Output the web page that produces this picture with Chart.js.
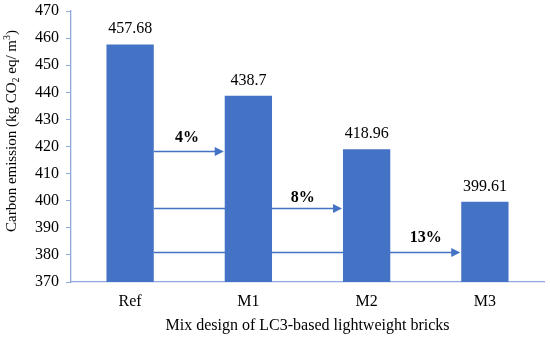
<!DOCTYPE html>
<html><head><meta charset="utf-8">
<script src="https://cdn.jsdelivr.net/npm/chart.js@4.4.1/dist/chart.umd.min.js"></script>
<style>html,body{margin:0;padding:0;background:#fff}#wrap{width:550px;height:338px}</style>
</head>
<body><div id="wrap"><canvas id="c" width="550" height="338"></canvas></div>
<script>
const categories = ['Ref', 'M1', 'M2', 'M3'];
const emissions = [457.68, 438.7, 418.96, 399.61];
const valueLabels = ['457.68', '438.7', '418.96', '399.61'];
const yMin = 370, yMax = 470, yStep = 10;
const reductionLabels = ['4%', '8%', '13%'];
const arrowLevels = [418.2, 397.4, 381.2];
const arrowTargets = [1, 2, 3];
const reductionLabelX = [0.48, 1.46, 2.5];
const reductionLabelY = [423.3, 401.2, 386.4];
const xTitle = 'Mix design of LC3-based lightweight bricks';
const yTitleParts = [['Carbon emission (kg CO', 0], ['2', -1], [' eq/ m', 0], ['3', 1], [')', 0]];

const FONT = '"Liberation Serif", "Times New Roman", serif';
const BAR = '#4472C4';
const AXIS = '#8EA9DB';

const annot = {
  id: 'annot',
  beforeDatasetsDraw(chart) {
    const ctx = chart.ctx, x = chart.scales.x, y = chart.scales.y;
    const meta = chart.getDatasetMeta(0);
    const startX = meta.data[0].x + meta.data[0].width / 2;
    ctx.save();
    ctx.strokeStyle = BAR; ctx.fillStyle = BAR; ctx.lineWidth = 1.3;
    arrowLevels.forEach((lv, i) => {
      const py = Math.round(y.getPixelForValue(lv)) + 0.5;
      const bar = meta.data[arrowTargets[i]];
      const tip = bar.x - bar.width / 2 - 1;
      ctx.beginPath(); ctx.moveTo(startX, py); ctx.lineTo(tip - 7, py); ctx.stroke();
      ctx.beginPath(); ctx.moveTo(tip, py); ctx.lineTo(tip - 9, py - 4.5); ctx.lineTo(tip - 9, py + 4.5); ctx.closePath(); ctx.fill();
    });
    ctx.restore();
  },
  afterDatasetsDraw(chart) {
    const ctx = chart.ctx, x = chart.scales.x, y = chart.scales.y;
    const meta = chart.getDatasetMeta(0);
    ctx.save();
    ctx.fillStyle = '#000';
    ctx.font = '16px ' + FONT;
    ctx.textAlign = 'center'; ctx.textBaseline = 'alphabetic';
    meta.data.forEach((b, i) => { ctx.fillText(valueLabels[i], b.x, b.y - 11); });
    ctx.font = 'bold 16px ' + FONT;
    ctx.textBaseline = 'middle';
    reductionLabels.forEach((t, i) => {
      ctx.fillText(t, x.getPixelForValue(reductionLabelX[i]), y.getPixelForValue(reductionLabelY[i]));
    });
    // x title
    ctx.font = '16px ' + FONT;
    ctx.textBaseline = 'middle';
    ctx.fillText(xTitle, (chart.chartArea.left + chart.chartArea.right) / 2, 326);
    // y title with sub/superscripts
    ctx.translate(12, 131);
    ctx.rotate(-Math.PI / 2);
    const big = '15px ' + FONT, small = '10px ' + FONT;
    let total = 0;
    yTitleParts.forEach(([t, s]) => { ctx.font = s ? small : big; total += ctx.measureText(t).width; });
    let cx = -total / 2;
    ctx.textAlign = 'left';
    yTitleParts.forEach(([t, s]) => {
      ctx.font = s ? small : big;
      const dy = s === -1 ? 4 : (s === 1 ? -5 : 0);
      ctx.fillText(t, cx, dy);
      cx += ctx.measureText(t).width;
    });
    ctx.restore();
  }
};

new Chart(document.getElementById('c'), {
  type: 'bar',
  data: {
    labels: categories,
    datasets: [{ data: emissions, backgroundColor: BAR, borderWidth: 0, barPercentage: 0.4, categoryPercentage: 1 }]
  },
  options: {
    responsive: false, devicePixelRatio: 1, animation: false,
    layout: { padding: { left: 0, right: 6, top: 11, bottom: 0 } },
    plugins: { legend: { display: false }, tooltip: { enabled: false } },
    scales: {
      x: {
        grid: { display: true, drawOnChartArea: false, drawTicks: false },
        border: { color: AXIS, width: 1.3 },
        ticks: { color: '#000', font: { family: FONT, size: 16 }, padding: 10 },
        afterFit(s) { s.height = 56; s.paddingLeft = 0; s.paddingRight = 0; }
      },
      y: {
        min: yMin, max: yMax,
        grid: { display: true, drawOnChartArea: false, drawTicks: true, tickLength: 5, color: AXIS },
        border: { color: AXIS, width: 1.3 },
        ticks: { stepSize: yStep, color: '#000', font: { family: FONT, size: 16 }, padding: 7 },
        afterFit(s) { s.width = 71; s.paddingTop = 0; s.paddingBottom = 0; }
      }
    }
  },
  plugins: [annot]
});
</script>
</body></html>
